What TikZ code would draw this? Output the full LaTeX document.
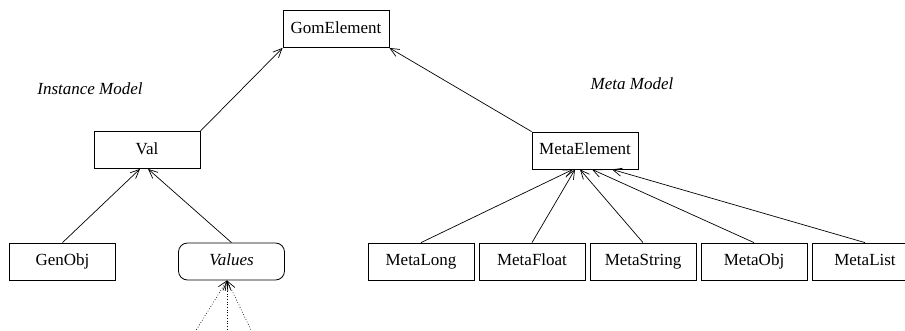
\documentclass[tikz,border=0pt]{standalone}
\usepackage{fontspec}
\setmainfont{Liberation Serif}
\newfontfamily\boxfont{Liberation Serif}
\usetikzlibrary{arrows.meta}
\begin{document}
\begin{tikzpicture}[x=1pt,y=-1pt,
  every node/.style={font=\boxfont\fontsize{17}{20}\selectfont},
  cls/.style={draw,line width=0.8pt,minimum width=106pt,minimum height=37pt,
    inner sep=0pt,text height=11.5pt,text depth=3.5pt},
  valbox/.style={cls,rounded corners=9pt,font=\boxfont\fontsize{17}{20}\selectfont\itshape},
  title/.style={font=\boxfont\fontsize{17}{20}\selectfont\itshape},
  inherit/.style={line width=0.7pt,-{Straight Barb[length=9pt,width=8pt]}},
  member/.style={inherit,dotted}]
\clip (0,0) rectangle (905,330);
\useasboundingbox (0,0) rectangle (905,330);

% classes
\node[cls] (gom) at (336,29) {GomElement};
\node[cls] (val) at (147,150) {Val};
\node[cls] (meta) at (585,150.5) {MetaElement};
\node[cls] (genobj) at (62.5,261.5) {GenObj};
\node[valbox] (values) at (231.5,261.5) {Values};
\node[cls] (mlong) at (421,261.5) {MetaLong};
\node[cls] (mfloat) at (532,261.5) {MetaFloat};
\node[cls] (mstring) at (643,261.5) {MetaString};
\node[cls] (mobj) at (754,261.5) {MetaObj};
\node[cls] (mlist) at (865,261.5) {MetaList};

% group titles
\node[title] (inst) at (90,89) {Instance Model};
\node[title] (metat) at (632,84) {Meta Model};

% arrow end points on the parents
\coordinate (valA) at ([xshift=-7pt]val.south);
\coordinate (valB) at ([xshift=1pt]val.south);
\coordinate (meA) at ([xshift=-12pt]meta.south);
\coordinate (meB) at ([xshift=-10pt]meta.south);
\coordinate (meC) at ([xshift=-5pt]meta.south);
\coordinate (meD) at ([xshift=7pt]meta.south);
\coordinate (meE) at ([xshift=27pt]meta.south);
\coordinate (vIn) at ([xshift=-4.5pt]values.south);

% loose ends of the dotted members
\coordinate (d1) at (195,332);
\coordinate (d2) at (227,332);
\coordinate (d3) at (252,332);

% inheritance
\draw[inherit] (val.north east) -- (gom.south west);
\draw[inherit] (meta.north west) -- (gom.south east);
\draw[inherit] (genobj.north) -- (valA);
\draw[inherit] (values.north) -- (valB);
\draw[inherit] (mlong.north) -- (meA);
\draw[inherit] (mfloat.north) -- (meB);
\draw[inherit] (mstring.north) -- (meC);
\draw[inherit] (mobj.north) -- (meD);
\draw[inherit] (mlist.north) -- (meE);

% value members
\draw[member] (d1) -- (vIn);
\draw[member] (d2) -- (vIn);
\draw[member] (d3) -- (vIn);
\end{tikzpicture}
\end{document}
